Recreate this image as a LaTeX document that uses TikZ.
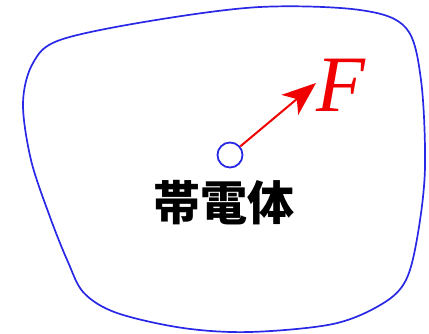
\documentclass[tikz,border=0pt]{standalone}
\usepackage{fontspec}
\newfontfamily\cjk{Noto Sans CJK JP}
\newfontfamily\timesfont{Liberation Serif}
\usetikzlibrary{arrows.meta}
\definecolor{blobblue}{RGB}{40,40,230}
\definecolor{forcered}{RGB}{240,0,0}
\tikzset{
  blob/.style={draw=blobblue, line width=1.7pt},
  chargebody/.style={circle, draw=blobblue, line width=1.8pt, minimum size=25pt, inner sep=0pt},
  forcearrow/.style={draw=forcered, line width=2pt, -{Stealth[length=34pt,width=26pt,inset=9pt]}},
  forcelabel/.style={text=forcered, font=\timesfont\itshape\fontsize{80}{82}\selectfont, inner sep=0pt},
  bodylabel/.style={font=\cjk\bfseries\fontsize{47}{50}\selectfont}
}
\begin{document}
\begin{tikzpicture}[x=1pt,y=-1pt]
\useasboundingbox (0,0) rectangle (429,334);
\draw[blob] plot[smooth cycle, tension=0.55] coordinates {(60,40) (150,21) (260,7) (360,10) (406,28) (421,80) (425,167) (418,233) (406,280) (382,304) (333,324) (250,332) (183,328) (117,313) (84,293) (68,262) (50,217) (31,160) (23,103) (33,63)};
\node[chargebody] (body) at (230,155) {};
\coordinate (tip) at (316,83);
\draw[forcearrow] (body) -- (tip);
\node[forcelabel] (F) at (341,85) {F};
\node[bodylabel] (label) at (224,203) {帯電体};
\end{tikzpicture}
\end{document}
